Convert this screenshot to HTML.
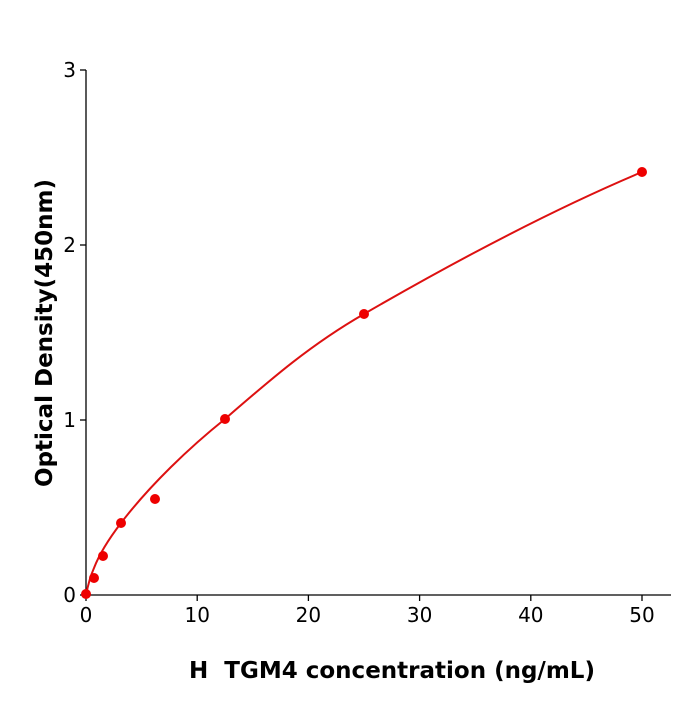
<!DOCTYPE html>
<html><head><style>body{margin:0;background:#fff}</style></head><body>
<svg width="700" height="700" xmlns="http://www.w3.org/2000/svg" font-family="DejaVu Sans, Liberation Sans, sans-serif">
<rect width="700" height="700" fill="#fff"/>
<g stroke="#000" stroke-width="1.3" fill="none">
<line x1="86" y1="70" x2="86" y2="595"/>
<line x1="86" y1="595" x2="671" y2="595"/>
<line x1="80" y1="595" x2="86" y2="595"/>
<line x1="80" y1="420" x2="86" y2="420"/>
<line x1="80" y1="245" x2="86" y2="245"/>
<line x1="80" y1="70" x2="86" y2="70"/>
<line x1="86" y1="595" x2="86" y2="601"/>
<line x1="197.2" y1="595" x2="197.2" y2="601"/>
<line x1="308.4" y1="595" x2="308.4" y2="601"/>
<line x1="419.6" y1="595" x2="419.6" y2="601"/>
<line x1="530.8" y1="595" x2="530.8" y2="601"/>
<line x1="642" y1="595" x2="642" y2="601"/>
</g>
<g font-size="20" fill="#000" text-anchor="end">
<text x="76" y="602">0</text><text x="76" y="427">1</text><text x="76" y="252">2</text><text x="76" y="77">3</text>
</g>
<g font-size="20" fill="#000" text-anchor="middle">
<text x="86" y="622">0</text><text x="197.2" y="622">10</text><text x="308.4" y="622">20</text><text x="419.6" y="622">30</text><text x="530.8" y="622">40</text><text x="642" y="622">50</text>
</g>
<text x="392" y="678" font-size="23" font-weight="bold" text-anchor="middle">H&#160; TGM4 concentration (ng/mL)</text>
<text transform="translate(52,333) rotate(-90)" font-size="23" font-weight="bold" text-anchor="middle">Optical Density(450nm)</text>
<path d="M86,595 C88,585 90,577 94,568 C99,555 108,540 121,523 C150,485 190,447 225,419 C270,380 310,345 364,314 C440,270 540,215 642,172" fill="none" stroke="#dd1111" stroke-width="2" stroke-linejoin="round"/>
<g fill="#ee0000">
<circle cx="86" cy="594" r="5"/><circle cx="94" cy="578" r="5"/><circle cx="103" cy="556" r="5"/><circle cx="121" cy="523" r="5"/><circle cx="155" cy="499" r="5"/><circle cx="225" cy="419" r="5"/><circle cx="364" cy="314" r="5"/><circle cx="642" cy="172" r="5"/>
</g>
</svg>
</body></html>
